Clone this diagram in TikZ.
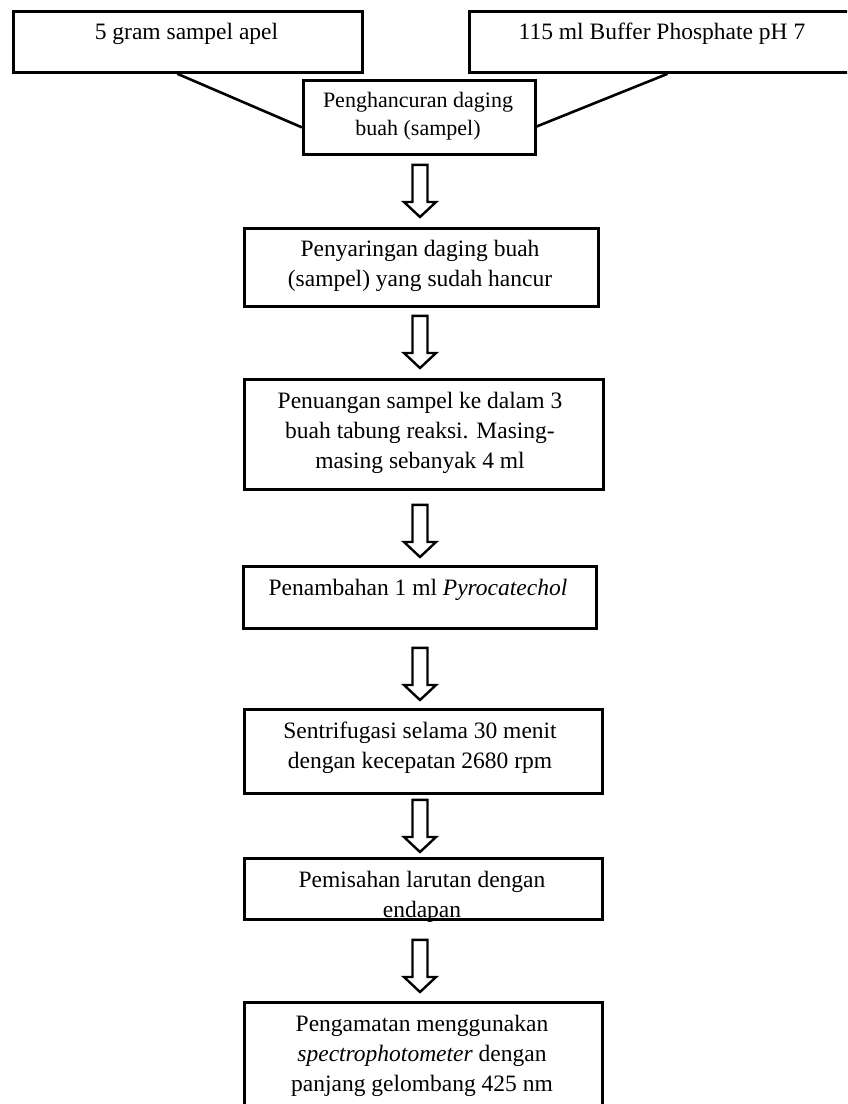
\documentclass[tikz,border=0pt]{standalone}
\usepackage{fontspec}
\setmainfont{Liberation Serif}
\usetikzlibrary{calc}
\newcommand\blockarrowdown[4]{%
  \path let \p1=(#1.south), \p2=(#2.north) in
    (420pt,\y1) coordinate (s) (420pt,\y2) coordinate (e);
  \draw[blk] ($(s)+(-7.5,#3)$) -- ($(s)+(7.5,#3)$) -- ($(e)+(7.5,-#4-15)$)
    -- ($(e)+(16,-#4-15)$) -- ($(e)+(0,-#4)$) -- ($(e)+(-16,-#4-15)$)
    -- ($(e)+(-7.5,-#4-15)$) -- cycle;
}
\begin{document}
\begin{tikzpicture}[x=1pt,y=-1pt,
  box/.style={draw, line width=2.8pt, rectangle, inner sep=0pt, anchor=north west},
  txt/.style={align=center, inner sep=0pt, font=\fontsize{23.5pt}{30pt}\selectfont},
  txts/.style={align=center, inner sep=0pt, font=\fontsize{22pt}{28pt}\selectfont},
  link/.style={line width=2.6pt},
  blk/.style={draw, line width=2.4pt, fill=white, line join=miter}]
\useasboundingbox (0,0) rectangle (847,1104);
\clip (0,0) rectangle (847,1104);
% boxes
\node[box, minimum width=349pt, minimum height=61pt] (b1) at (12,10) {};
\node[box, minimum width=390pt, minimum height=61pt] (b2) at (468,10) {};
\node[box, minimum width=232pt, minimum height=74pt] (c) at (302,79) {};
\node[box, minimum width=354pt, minimum height=78pt] (p1) at (243,227) {};
\node[box, minimum width=359pt, minimum height=110pt] (p2) at (243,378) {};
\node[box, minimum width=353pt, minimum height=62pt] (p3) at (242,565) {};
\node[box, minimum width=358pt, minimum height=84pt] (p4) at (243,708) {};
\node[box, minimum width=358pt, minimum height=61pt] (p5) at (243,857) {};
\node[box, minimum width=358pt, minimum height=130pt] (p6) at (243,1001) {};
% texts
\node[txt] (t1) at (186.5,34) {5 gram sampel apel};
\node[txt] (t2) at (662,34) {115 ml Buffer Phosphate pH 7};
\node[txts] (tc) at (418,116) {Penghancuran daging\\buah (sampel)};
\node[txt] (tp1) at (420,266) {Penyaringan daging buah\\(sampel) yang sudah hancur};
\node[txt] (tp2) at (420,433) {Penuangan sampel ke dalam 3\\buah tabung reaksi. Masing-\\masing sebanyak 4 ml};
\node[txt] (tp3) at (418,590) {Penambahan 1 ml \textit{Pyrocatechol}};
\node[txt] (tp4) at (420,748) {Sentrifugasi selama 30 menit\\dengan kecepatan 2680 rpm};
\node[txt] (tp5) at (422,897) {Pemisahan larutan dengan\\endapan};
\node[txt] (tp6) at (422,1056) {Pengamatan menggunakan\\\textit{spectrophotometer} dengan\\panjang gelombang 425 nm};
% connecting lines
\draw[link] ($(b1.south west)!0.47!(b1.south east)$) -- ($(c.west)+(0,10)$);
\draw[link] ($(b2.south west)!0.508!(b2.south east)$) -- ($(c.east)+(0,9)$);
% block arrows
\blockarrowdown{c}{p1}{9}{10}
\blockarrowdown{p1}{p2}{8}{10}
\blockarrowdown{p2}{p3}{14}{8}
\blockarrowdown{p3}{p4}{18}{8}
\blockarrowdown{p4}{p5}{5}{5}
\blockarrowdown{p5}{p6}{19}{9}
\end{tikzpicture}
\end{document}
